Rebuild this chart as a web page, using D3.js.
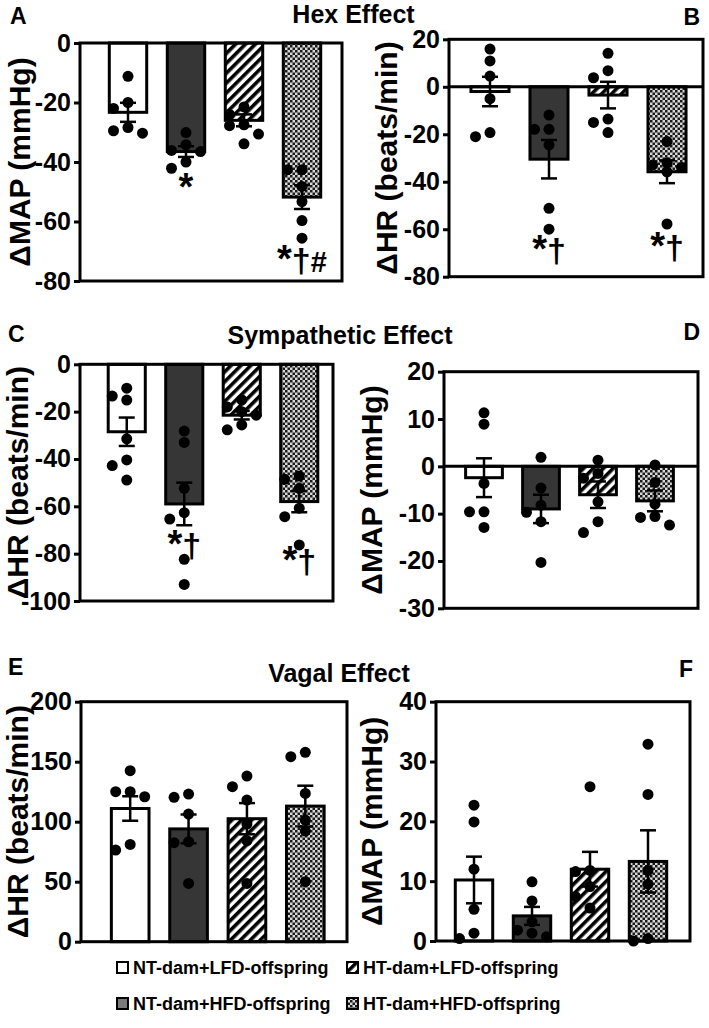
<!DOCTYPE html>
<html><head><meta charset="utf-8">
<script src="https://cdn.jsdelivr.net/npm/d3@7"></script>
<style>
body{margin:0;background:#fff}
svg{display:block}
text{font-family:"Liberation Sans",Arial,Helvetica,sans-serif;font-weight:bold;fill:#000}
</style>
</head><body>
<svg id="chart" width="709" height="1028"></svg>
<script>
// ---------------- DATA ----------------
const groups = ["NT-dam+LFD-offspring","NT-dam+HFD-offspring","HT-dam+LFD-offspring","HT-dam+HFD-offspring"];

// A: Hex effect, ΔMAP
const hexMapMean = [-23.3, -36.5, -26.0, -51.8];
const hexMapSem  = [3.2, 1.8, 2.0, 4.0];
const hexMapPoints = [
  [-11.2, -20.0, -22.0, -28.4, -30.3, -29.5],
  [-30.1, -34.2, -36.1, -36.5, -42.1, -40.0],
  [-21.5, -24.0, -27.5, -27.8, -30.6, -33.9],
  [-42.6, -42.6, -48.2, -53.3, -59.7, -65.6]
];
const hexMapTicks = [0, -20, -40, -60, -80];
const hexMapSig = [{g:1, text:"*", at:-52.8}, {g:3, text:"*†#", at:-77}];

// B: Hex effect, ΔHR
const hexHrMean = [-2.0, -30.5, -3.5, -35.8];
const hexHrSem  = [6.2, 8.1, 5.6, 4.8];
const hexHrPoints = [
  [15.9, 10.9, 4.5, -5.0, -21.0, -19.3],
  [-11.9, -17.9, -17.9, -24.5, -51.2, -60.0],
  [14.1, 6.8, 3.8, -13.6, -15.0, -19.3],
  [-23.1, -32.0, -34.0, -35.8, -33.0, -57.8]
];
const hexHrTicks = [20, 0, -20, -40, -60, -80];
const hexHrSig = [{g:1, text:"*†", at:-73.8}, {g:3, text:"*†", at:-72.5}];

// C: Sympathetic effect, ΔHR
const symHrMean = [-28.5, -59.0, -21.5, -58.0];
const symHrSem  = [6.0, 9.0, 1.8, 4.5];
const symHrPoints = [
  [-10.1, -15.1, -13.4, -31.5, -40.4, -42.8, -48.9],
  [-28.2, -33.0, -52.4, -65.4, -62.7, -82.4, -93.0],
  [-15.0, -18.0, -20.0, -21.5, -25.6, -27.7],
  [-48.6, -47.2, -52.4, -60.8, -64.4, -76.3]
];
const symHrTicks = [0, -20, -40, -60, -80, -100];
const symHrSig = [{g:1, text:"*†", at:-81.4}, {g:3, text:"*†", at:-88.2}];

// D: Sympathetic effect, ΔMAP
const symMapMean = [-2.4, -9.0, -6.0, -7.3];
const symMapSem  = [4.1, 3.0, 2.8, 2.2];
const symMapPoints = [
  [11.3, 8.9, -3.6, -9.6, -9.6, -12.9],
  [1.9, -4.6, -9.7, -8.2, -11.7, -20.3],
  [1.3, -1.5, -2.5, -7.5, -11.7, -14.0],
  [0.3, -3.4, -8.0, -10.6, -10.8, -12.4]
];
const symMapTicks = [20, 10, 0, -10, -20, -30];

// E: Vagal effect, ΔHR
const vagHrMean = [111.0, 94.0, 102.5, 113.0];
const vagHrSem  = [10.2, 12.0, 13.0, 17.0];
const vagHrPoints = [
  [142.5, 125.0, 125.0, 120.8, 76.4, 81.1],
  [120.3, 123.0, 106.4, 83.3, 82.5, 48.6],
  [138.0, 129.2, 118.0, 98.0, 84.2, 48.6],
  [154.2, 157.8, 123.6, 101.4, 92.2, 50.0]
];
const vagHrTicks = [0, 50, 100, 150, 200];

// F: Vagal effect, ΔMAP
const vagMapMean = [10.2, 4.2, 12.0, 13.3];
const vagMapSem  = [3.9, 1.5, 2.9, 5.2];
const vagMapPoints = [
  [22.7, 19.9, 12.0, 5.3, 0.4, 1.3],
  [9.9, 6.7, 3.2, 1.3, 1.8, 0.7],
  [25.8, 11.8, 11.6, 9.1, 7.4, 5.5],
  [32.9, 24.5, 11.8, 9.5, 0.0, 0.4]
];
const vagMapTicks = [0, 10, 20, 30, 40];

const sectionTitles = ["Hex Effect", "Sympathetic Effect", "Vagal Effect"];
const yLabelMap = "ΔMAP (mmHg)";
const yLabelHr = "ΔHR (beats/min)";

// ---------------- LAYOUT ----------------
const panels = [
  {letter:"A", mean:hexMapMean, sem:hexMapSem, pts:hexMapPoints, ticks:hexMapTicks, sig:hexMapSig, label:yLabelMap,
   dom:[-80,0], box:[80,342,43,281], bars:[99,331], labelX:30, zero:false, letterAt:[10,24,"start"]},
  {letter:"B", mean:hexHrMean, sem:hexHrSem, pts:hexHrPoints, ticks:hexHrTicks, sig:hexHrSig, label:yLabelHr,
   dom:[-80,20], box:[449,703,39.3,276.7], bars:[460.5,696.5], labelX:397, zero:true, letterAt:[700,25,"end"]},
  {letter:"C", mean:symHrMean, sem:symHrSem, pts:symHrPoints, ticks:symHrTicks, sig:symHrSig, label:yLabelHr,
   dom:[-100,0], box:[80,333,364.3,601], bars:[98,328], labelX:28, zero:false, letterAt:[8,342,"start"]},
  {letter:"D", mean:symMapMean, sem:symMapSem, pts:symMapPoints, ticks:symMapTicks, sig:[], label:yLabelMap,
   dom:[-30,20], box:[444,698,371.7,608.3], bars:[455.5,683.5], labelX:382, zero:true, letterAt:[700,340,"end"]},
  {letter:"E", mean:vagHrMean, sem:vagHrSem, pts:vagHrPoints, ticks:vagHrTicks, sig:[], label:yLabelHr,
   dom:[0,200], box:[81,347,701.7,941.7], bars:[101,334.5], labelX:28, zero:false, letterAt:[8,675,"start"]},
  {letter:"F", mean:vagMapMean, sem:vagMapSem, pts:vagMapPoints, ticks:vagMapTicks, sig:[], label:yLabelMap,
   dom:[0,40], box:[436,690,701.7,941], bars:[445,677], labelX:382, zero:false, letterAt:[693,677,"end"]}
];
const titleAt = [[353.5,23],[340,344],[339,682]];

const svg = d3.select("#chart");
const defs = svg.append("defs");

// patterns
const hatch = defs.append("pattern").attr("id","hatch").attr("patternUnits","userSpaceOnUse")
  .attr("width",7).attr("height",7).attr("patternTransform","rotate(45)");
hatch.append("rect").attr("width",7).attr("height",7).attr("fill","#fff");
hatch.append("rect").attr("width",3.6).attr("height",7).attr("fill","#000");

const checker = defs.append("pattern").attr("id","checker").attr("patternUnits","userSpaceOnUse")
  .attr("width",5).attr("height",5);
checker.append("rect").attr("width",5).attr("height",5).attr("fill","#d8d8d8");
checker.append("rect").attr("width",2.5).attr("height",2.5).attr("fill","#1a1a1a");
checker.append("rect").attr("x",2.5).attr("y",2.5).attr("width",2.5).attr("height",2.5).attr("fill","#1a1a1a");

const barFill = ["#ffffff", "#363636", "url(#hatch)", "url(#checker)"];
const legendFill = ["#ffffff", "#7a7a7a", "url(#hatch)", "url(#checker)"];

// simple three-column swarm: centre first, then left, then right; if all collide take the roomiest
function swarm(vals, y, r, dx) {
  const order = vals.map((v,i)=>i).sort((a,b)=>vals[b]-vals[a]);
  const placed = [], out = new Array(vals.length);
  for (const i of order) {
    const py = y(vals[i]);
    let best = null, bestD = -1;
    for (const k of [0,-1,1]) {
      const px = k*dx;
      const d = placed.length ? d3.min(placed, p => Math.hypot(p[0]-px, p[1]-py)) : Infinity;
      if (d >= 2*r - 0.01) { best = [px,py]; break; }
      if (d > bestD) { bestD = d; best = [px,py]; }
    }
    placed.push(best); out[i] = best;
  }
  return out;
}

const R = 5.5;
panels.forEach(p => {
  const [x0,x1,y0,y1] = p.box;
  const y = d3.scaleLinear().domain(p.dom).range([y1, y0]);
  const x = d3.scaleBand().domain(groups).range(p.bars).paddingInner(0.355).paddingOuter(0.1775);
  const g = svg.append("g");

  // bars
  g.selectAll("rect.bar").data(groups).join("rect").attr("class","bar")
    .attr("x", d => x(d))
    .attr("width", x.bandwidth())
    .attr("y", (d,i) => Math.min(y(0), y(p.mean[i])))
    .attr("height", (d,i) => Math.abs(y(p.mean[i]) - y(0)))
    .attr("fill", (d,i) => barFill[i])
    .attr("stroke", "#000").attr("stroke-width", 3);

  if (p.zero) {
    g.append("line").attr("x1",x0).attr("x2",x1).attr("y1",y(0)).attr("y2",y(0))
      .attr("stroke","#000").attr("stroke-width",3);
  }

  // dots
  groups.forEach((grp,i) => {
    const cx = x(grp) + x.bandwidth()/2;
    const pos = swarm(p.pts[i], y, R, 14.5);
    g.selectAll(null).data(pos).join("circle")
      .attr("cx", d => cx + d[0]).attr("cy", d => d[1]).attr("r", R).attr("fill","#000");
  });

  // error bars (mean ± SEM)
  groups.forEach((grp,i) => {
    const cx = x(grp) + x.bandwidth()/2;
    const hi = y(p.mean[i] + p.sem[i]), lo = y(p.mean[i] - p.sem[i]);
    g.append("line").attr("x1",cx).attr("x2",cx).attr("y1",hi).attr("y2",lo).attr("stroke","#000").attr("stroke-width",2.5);
    [hi, lo].forEach(yy => g.append("line").attr("x1",cx-8).attr("x2",cx+8).attr("y1",yy).attr("y2",yy)
      .attr("stroke","#000").attr("stroke-width",2.5));
  });

  // frame
  g.append("rect").attr("x",x0).attr("y",y0).attr("width",x1-x0).attr("height",y1-y0)
    .attr("fill","none").attr("stroke","#000").attr("stroke-width",3);

  // axis
  const ax = g.append("g").attr("transform",`translate(${x0},0)`)
    .call(d3.axisLeft(y).tickValues(p.ticks).tickSize(6).tickPadding(3).tickFormat(d => String(d)));
  ax.select(".domain").remove();
  ax.selectAll(".tick line").attr("stroke","#000").attr("stroke-width",3);
  ax.selectAll(".tick text").style("font-size","25px").style("font-weight","bold")
    .style("font-family",'"Liberation Sans",Arial,sans-serif').attr("fill","#000");

  // y label
  g.append("text").attr("transform",`translate(${p.labelX},${(y0+y1)/2}) rotate(-90)`)
    .attr("text-anchor","middle").style("font-size","30px").text(p.label);

  // panel letter
  g.append("text").attr("x",p.letterAt[0]).attr("y",p.letterAt[1]).attr("text-anchor",p.letterAt[2])
    .style("font-size","23px").text(p.letter);

  // significance marks
  p.sig.forEach(s => {
    const cx = x(groups[s.g]) + x.bandwidth()/2;
    const t = g.append("text").attr("x",cx).attr("y",y(s.at)).attr("text-anchor","middle");
    [...s.text].forEach(ch => {
      t.append("tspan").style("font-size", ch === "#" ? "29px" : ch === "*" ? "38px" : "34px").text(ch);
    });
  });
});

// section titles
svg.selectAll("text.title").data(sectionTitles).join("text").attr("class","title")
  .attr("x",(d,i)=>titleAt[i][0]).attr("y",(d,i)=>titleAt[i][1])
  .attr("text-anchor","middle").style("font-size","25px").text(d=>d);

// legend
const legendOrder = [0,2,1,3];
const legendPos = [[117,974],[347,974],[117,1010],[347,1010]];
legendOrder.forEach((gi,k) => {
  const [lx,ly] = legendPos[k];
  svg.append("rect").attr("x",lx).attr("y",ly-12).attr("width",11).attr("height",11)
    .attr("fill",legendFill[gi]).attr("stroke","#000").attr("stroke-width",2);
  svg.append("text").attr("x",lx+16).attr("y",ly).style("font-size","18px").text(groups[gi]);
});
</script>
</body></html>
